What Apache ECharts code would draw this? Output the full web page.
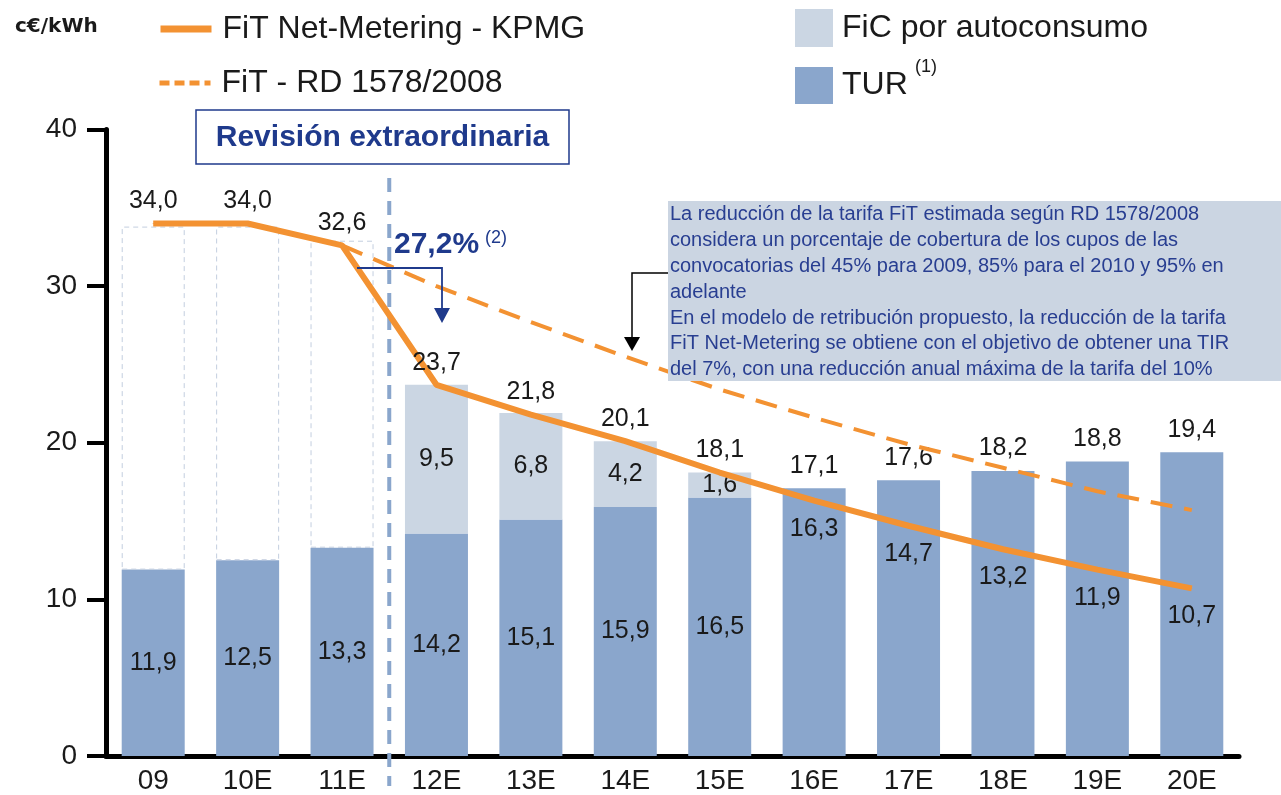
<!DOCTYPE html>
<html>
<head>
<meta charset="utf-8">
<script src="https://cdn.jsdelivr.net/npm/echarts@6/dist/echarts.min.js"></script>
<style>
  html, body { margin: 0; padding: 0; background: #fff; }
  #chart { width: 1281px; height: 795px; }
</style>
</head>
<body>
<div id="chart"></div>
<script>
// data
const categories = ['09', '10E', '11E', '12E', '13E', '14E', '15E', '16E', '17E', '18E', '19E', '20E'];
const turValues = [11.9, 12.5, 13.3, 14.2, 15.1, 15.9, 16.5, 17.1, 17.6, 18.2, 18.8, 19.4];
const ficValues = [null, null, null, 9.5, 6.8, 4.2, 1.6, null, null, null, null, null];
const ficOutlineTop = [33.8, 33.8, 32.9, null, null, null, null, null, null, null, null, null];
const fitNetMetering = [34.0, 34.0, 32.6, 23.7, 21.8, 20.1, 18.1, 16.3, 14.7, 13.2, 11.9, 10.7];
const fitRd1578 = [null, null, 32.6, 30.0, 27.7, 25.5, 23.4, 21.6, 19.9, 18.4, 16.9, 15.7];
const yMin = 0, yMax = 40, yStep = 10;

const ORANGE = '#f39232';
const NAVY = '#1f3a8c';
const TUR_BLUE = '#8aa6cc';
const FIC_GREY = '#cbd6e3';
const TXT = '#1a1a1a';
const FONT = '"Liberation Sans", Arial, sans-serif';

const fmt = v => (v == null || isNaN(v)) ? '' : Number(v).toFixed(1).replace('.', ',');
const labelFmt = p => fmt(Array.isArray(p.value) ? p.value[1] : p.value);

const chart = echarts.init(document.getElementById('chart'));

const valueLabel = {
  show: true,
  fontSize: 25,
  color: TXT,
  fontFamily: FONT,
  formatter: labelFmt
};

const option = {
  animation: false,
  backgroundColor: '#fff',
  grid: { left: 106, right: 42, top: 129.5, bottom: 38.5, containLabel: false },
  legend: [
    {
      data: ['FiT Net-Metering - KPMG'], left: 157, top: 13, padding: 0,
      itemWidth: 51, itemHeight: 14, selectedMode: false,
      itemStyle: { opacity: 0 }, lineStyle: { width: 7 },
      textStyle: { fontSize: 32, color: TXT, fontFamily: FONT, padding: [0, 0, 0, 6] }
    },
    {
      data: ['FiT - RD 1578/2008'], left: 157, top: 67, padding: 0,
      itemWidth: 51, itemHeight: 14, selectedMode: false,
      itemStyle: { opacity: 0 }, lineStyle: { width: 5, type: [10, 5] },
      textStyle: { fontSize: 32, color: TXT, fontFamily: FONT, padding: [0, 0, 0, 6] }
    },
    {
      data: ['FiC por autoconsumo'], left: 795, top: 9, padding: 0, icon: 'rect',
      itemWidth: 38, itemHeight: 38, selectedMode: false,
      textStyle: { fontSize: 32, color: TXT, fontFamily: FONT, padding: [0, 0, 0, 4] }
    },
    {
      data: ['TUR'], left: 795, top: 67, padding: 0, icon: 'rect',
      itemWidth: 38, itemHeight: 37, selectedMode: false,
      textStyle: { fontSize: 32, color: TXT, fontFamily: FONT, padding: [0, 0, 0, 4] }
    }
  ],
  xAxis: {
    type: 'category',
    data: categories,
    axisLine: { lineStyle: { color: '#000', width: 5 } },
    axisTick: { show: false },
    axisLabel: { fontSize: 28, color: TXT, fontFamily: FONT, margin: 11 }
  },
  yAxis: {
    type: 'value',
    min: yMin, max: yMax, interval: yStep,
    axisLine: { show: true, lineStyle: { color: '#000', width: 5 } },
    axisTick: { show: true, length: 19, lineStyle: { color: '#000', width: 4 } },
    splitLine: { show: false },
    axisLabel: { fontSize: 28, color: TXT, fontFamily: FONT, margin: 29 }
  },
  series: [
    {
      name: 'TUR',
      type: 'bar',
      stack: 'total',
      barWidth: 63,
      itemStyle: { color: TUR_BLUE },
      label: valueLabel,
      data: turValues.map((v, i) => ({
        value: v,
        label: i < 7 ? { position: 'inside' } : { position: 'top', distance: 10 }
      }))
    },
    {
      name: 'FiC por autoconsumo',
      type: 'bar',
      stack: 'total',
      barWidth: 63,
      itemStyle: { color: FIC_GREY },
      label: Object.assign({}, valueLabel, { position: 'inside' }),
      data: ficValues
    },
    {
      name: 'outline',
      type: 'bar',
      stack: 'total',
      barWidth: 63,
      silent: true,
      itemStyle: {
        color: 'rgba(255,255,255,0)',
        borderColor: '#c3cedf',
        borderWidth: 1,
        borderType: [5, 4]
      },
      data: ficOutlineTop.map((t, i) => t == null ? null : +(t - turValues[i]).toFixed(1))
    },
    {
      name: 'FiT - RD 1578/2008',
      type: 'line',
      symbol: 'none',
      z: 4,
      lineStyle: { color: ORANGE, width: 4, type: [22, 12] },
      itemStyle: { color: ORANGE },
      data: fitRd1578
    },
    {
      name: 'FiT Net-Metering - KPMG',
      type: 'line',
      symbol: 'circle',
      symbolSize: 1,
      z: 5,
      lineStyle: { color: ORANGE, width: 6 },
      itemStyle: { color: ORANGE },
      label: valueLabel,
      data: fitNetMetering.map((v, i) => ({
        value: v,
        label: i < 7 ? { position: 'top', distance: 9 } : { position: 'bottom', distance: 15 }
      }))
    }
  ],
  graphic: [
    // unit
    {
      type: 'text', left: 15, top: 17,
      style: { text: 'c€/kWh', font: 'bold 20px "DejaVu Sans", Arial, sans-serif', fill: TXT }
    },
    // TUR footnote mark
    {
      type: 'text', left: 915, top: 58,
      style: { text: '(1)', font: '18px ' + FONT, fill: TXT }
    },
    // "Revisión extraordinaria" box
    {
      type: 'rect', z: 10,
      shape: { x: 196, y: 110, width: 373, height: 54 },
      style: { fill: '#fff', stroke: NAVY, lineWidth: 1.5 }
    },
    {
      type: 'text', z: 11, x: 382.5, y: 138,
      style: {
        text: 'Revisión extraordinaria', font: 'bold 30px ' + FONT, fill: NAVY,
        align: 'center', verticalAlign: 'middle'
      }
    },
    // 27,2% note and arrow
    {
      type: 'text', z: 11, x: 394, y: 245,
      style: { text: '27,2%', font: 'bold 30px ' + FONT, fill: NAVY, verticalAlign: 'middle' }
    },
    {
      type: 'text', z: 11, x: 485, y: 238,
      style: { text: '(2)', font: '18px ' + FONT, fill: NAVY, verticalAlign: 'middle' }
    },
    {
      type: 'polyline', z: 11,
      shape: { points: [[357, 268], [442, 268], [442, 309]] },
      style: { stroke: NAVY, lineWidth: 1.8, fill: null }
    },
    {
      type: 'polygon', z: 11,
      shape: { points: [[434, 308], [450, 308], [442, 323]] },
      style: { fill: NAVY }
    },
    // note box
    {
      type: 'rect', z: 10,
      shape: { x: 668, y: 201, width: 613, height: 180 },
      style: { fill: '#cbd5e2' }
    },
    {
      type: 'text', z: 11, x: 670, y: 202,
      style: {
        text: [
          'La reducción de la tarifa FiT estimada según RD 1578/2008',
          'considera un porcentaje de cobertura de los cupos de las',
          'convocatorias del 45% para 2009, 85% para el 2010 y 95% en',
          'adelante',
          'En el modelo de retribución propuesto, la reducción de la tarifa',
          'FiT Net-Metering se obtiene con el objetivo de obtener una TIR',
          'del 7%, con una reducción anual máxima de la tarifa del 10%'
        ].join('\n'),
        font: '20px ' + FONT, fill: '#283e91', lineHeight: 25.8, verticalAlign: 'top'
      }
    },
    {
      type: 'polyline', z: 11,
      shape: { points: [[668, 273], [632, 273], [632, 338]] },
      style: { stroke: '#000', lineWidth: 1.5, fill: null }
    },
    {
      type: 'polygon', z: 11,
      shape: { points: [[624, 337], [640, 337], [632, 351]] },
      style: { fill: '#000' }
    }
  ]
};

chart.setOption(option);

// dashed divider between 11E and 12E, placed through the category axis
const xA = chart.convertToPixel({ xAxisIndex: 0 }, categories[2]);
const xB = chart.convertToPixel({ xAxisIndex: 0 }, categories[3]);
const xMid = (xA + xB) / 2;
chart.setOption({
  graphic: option.graphic.concat([{
    type: 'line', z: 3,
    shape: { x1: xMid, y1: 178, x2: xMid, y2: 786 },
    style: { stroke: TUR_BLUE, lineWidth: 4, lineDash: [14, 9] }
  }])
});
</script>
</body>
</html>
